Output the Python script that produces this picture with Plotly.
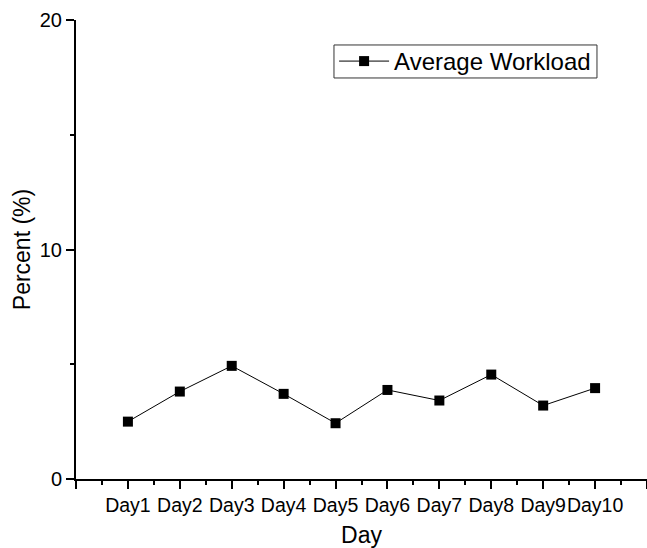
import plotly.graph_objects as go

# Average workload per day (percent)
days = ["Day1", "Day2", "Day3", "Day4", "Day5", "Day6", "Day7", "Day8", "Day9", "Day10"]
workload = [2.50, 3.81, 4.93, 3.71, 2.43, 3.88, 3.42, 4.55, 3.20, 3.96]
series_name = "Average Workload"

x_pos = list(range(1, len(days) + 1))
tick_vals = list(range(0, len(days) + 2))
tick_text = [""] + days + [""]
minor_vals = [v + 0.5 for v in range(0, len(days) + 1)]

FONT = "Arial, Liberation Sans, sans-serif"

fig = go.Figure()
fig.add_trace(go.Scatter(
    x=x_pos, y=workload, name=series_name, mode="lines+markers",
    line=dict(color="black", width=1),
    marker=dict(symbol="square", size=10, color="black"),
    showlegend=True,
))

# legend frame (drawn separately so it can be tighter than the default padding)
fig.add_shape(type="rect", xref="paper", yref="paper",
              x0=0.4518, x1=0.9124, y0=0.8737, y1=0.9456,
              line=dict(color="#333", width=1), fillcolor="rgba(0,0,0,0)")

fig.update_layout(
    width=647, height=548,
    margin=dict(l=76, r=0, t=20, b=69),
    paper_bgcolor="white", plot_bgcolor="white",
    font=dict(family=FONT, color="black", size=19),
    legend=dict(
        x=0.452, y=0.9096, xanchor="left", yanchor="middle",
        bgcolor="rgba(0,0,0,0)", borderwidth=0,
        font=dict(size=24, family=FONT),
        itemwidth=50,
    ),
    xaxis=dict(
        range=[0, 11], tickmode="array", tickvals=tick_vals, ticktext=tick_text,
        tickangle=0,
        showline=True, linecolor="black", linewidth=2,
        ticks="outside", ticklen=8, tickwidth=1.5, tickcolor="black",
        showgrid=False, zeroline=False,
        tickfont=dict(size=19.5),
        minor=dict(tickmode="array", tickvals=minor_vals, ticks="outside",
                   ticklen=4, tickwidth=1.5, tickcolor="black", showgrid=False),
        title=dict(text="Day", font=dict(size=23), standoff=11),
    ),
    yaxis=dict(
        range=[0, 20], tickmode="array", tickvals=[0, 10, 20],
        showline=True, linecolor="black", linewidth=2,
        ticks="outside", ticklen=8, tickwidth=1.5, tickcolor="black",
        showgrid=False, zeroline=False,
        tickfont=dict(size=20),
        minor=dict(tickmode="array", tickvals=[5, 15], ticks="outside",
                   ticklen=4, tickwidth=1.5, tickcolor="black", showgrid=False),
        title=dict(text="Percent (%)", font=dict(size=23), standoff=3),
    ),
)

fig.write_html("out.html")
